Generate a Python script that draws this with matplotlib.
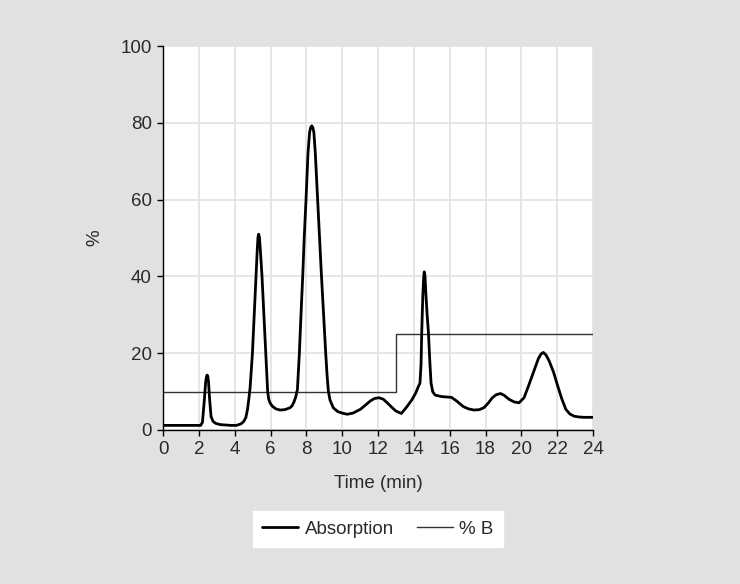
import matplotlib
matplotlib.use("Agg")
import matplotlib.pyplot as plt

# Absorption trace (time in min, %)
abs_time = [0.0, 2.10, 2.20, 2.30, 2.38, 2.43, 2.46, 2.50, 2.54, 2.60, 2.68, 2.80, 2.95, 3.2,
            3.5, 3.8, 4.1, 4.35, 4.5, 4.62, 4.72, 4.80, 4.86, 4.92, 4.99, 5.10, 5.19, 5.26,
            5.30, 5.34, 5.38, 5.43, 5.52, 5.63, 5.73, 5.80, 5.84, 5.90, 5.98, 6.10, 6.30,
            6.53, 6.80, 7.09, 7.20, 7.30, 7.40, 7.50, 7.61, 7.70, 7.80, 7.88, 7.98, 8.09,
            8.18, 8.24, 8.30, 8.36, 8.42, 8.50, 8.63, 8.74, 8.84, 8.96, 9.08, 9.16, 9.23,
            9.32, 9.50, 9.75, 10.0, 10.28, 10.6, 11.02, 11.3, 11.58, 11.8, 12.05, 12.3,
            12.51, 12.75, 12.98, 13.3, 13.6, 13.88, 14.1, 14.25, 14.34, 14.40, 14.44,
            14.50, 14.55, 14.58, 14.62, 14.67, 14.74, 14.81, 14.90, 14.96, 15.05, 15.18,
            15.55, 16.1, 16.4, 16.76, 17.05, 17.36, 17.65, 17.91, 18.15, 18.38, 18.6,
            18.84, 19.05, 19.31, 19.6, 19.87, 20.15, 20.4, 20.7, 20.95, 21.1, 21.23,
            21.38, 21.55, 21.8, 22.0, 22.25, 22.48, 22.7, 22.94, 23.2, 23.5, 24.0]
abs_value = [1.2, 1.2, 2.0, 7.5, 12.5, 14.0, 14.3, 14.0, 12.5, 8.0, 3.5, 2.2, 1.7, 1.4,
             1.3, 1.2, 1.2, 1.6, 2.2, 3.2, 5.5, 8.5, 11.0, 15.0, 20.0, 31.0, 40.4, 47.0,
             50.2, 51.0, 50.2, 47.0, 40.4, 30.0, 20.0, 13.5, 10.0, 8.0, 7.0, 6.2, 5.5,
             5.2, 5.3, 5.8, 6.3, 7.2, 8.5, 10.5, 20.0, 30.0, 40.4, 50.0, 59.9, 72.0,
             77.5, 78.8, 79.2, 78.8, 77.5, 72.0, 59.9, 50.0, 40.4, 30.0, 20.0, 14.0, 10.0,
             7.8, 5.8, 4.8, 4.4, 4.1, 4.4, 5.4, 6.5, 7.6, 8.2, 8.4, 8.0,
             7.1, 6.0, 5.0, 4.3, 6.0, 7.8, 9.6, 11.3, 12.2, 17.0, 25.6,
             35.0, 40.0, 41.2, 40.2, 35.5, 30.0, 25.6, 17.0, 12.2, 10.0, 9.1,
             8.7, 8.5, 7.5, 6.1, 5.5, 5.2, 5.3, 5.8, 7.0, 8.4, 9.2,
             9.5, 9.0, 8.0, 7.3, 7.1, 8.4, 11.5, 15.4, 18.6, 19.8, 20.2,
             19.5, 18.0, 15.0, 11.9, 8.2, 5.4, 4.2, 3.6, 3.4, 3.3, 3.3]

# % B gradient (step)
b_time = [0, 13, 13, 24]
b_value = [10, 10, 25, 25]

x_ticks = list(range(0, 25, 2))
y_ticks = list(range(0, 101, 20))

plt.rcParams['font.family'] = ['Liberation Sans', 'DejaVu Sans']
FS = 13.5
TXT = '#2a2a2a'

fig = plt.figure(figsize=(7.4, 5.84), dpi=100)
fig.patch.set_facecolor('#e1e1e1')
ax = fig.add_axes([0.2203, 0.2637, 0.5811, 0.6575])
ax.set_facecolor('white')

ax.plot(abs_time, abs_value, color='black', lw=2.0, solid_joinstyle='round',
        solid_capstyle='round', label='Absorption', zorder=3)
ax.plot(b_time, b_value, color='#333333', lw=1.0, label='% B', zorder=2)

ax.set_xlim(0, 24)
ax.set_ylim(0, 100)
ax.set_xticks(x_ticks)
ax.set_yticks(y_ticks)
ax.grid(True, color='#e4e4e4', lw=1.3)
ax.set_axisbelow(True)
for s in ['top', 'right']:
    ax.spines[s].set_visible(False)
for s in ['left', 'bottom']:
    ax.spines[s].set_color('black')
    ax.spines[s].set_linewidth(1.0)
ax.tick_params(axis='both', direction='out', length=4, width=1.0, labelsize=FS,
               labelcolor=TXT, color='black', pad=4)
ax.set_xlabel('Time (min)', fontsize=FS, color=TXT, labelpad=12)
ax.set_ylabel('%', fontsize=FS, color=TXT, labelpad=12)

leg = fig.legend(loc='center', bbox_to_anchor=(0.511, 0.094), ncol=2, frameon=True,
                 fancybox=False, fontsize=FS, handlelength=1.9, columnspacing=1.25,
                 handletextpad=0.35, borderpad=0.25, borderaxespad=0.0, framealpha=1.0)
leg.get_frame().set_facecolor('white')
leg.get_frame().set_edgecolor('white')
leg.get_frame().set_boxstyle('square', pad=0.25)
for t in leg.get_texts():
    t.set_color(TXT)

fig.savefig('out.png', dpi=100, facecolor=fig.get_facecolor())
